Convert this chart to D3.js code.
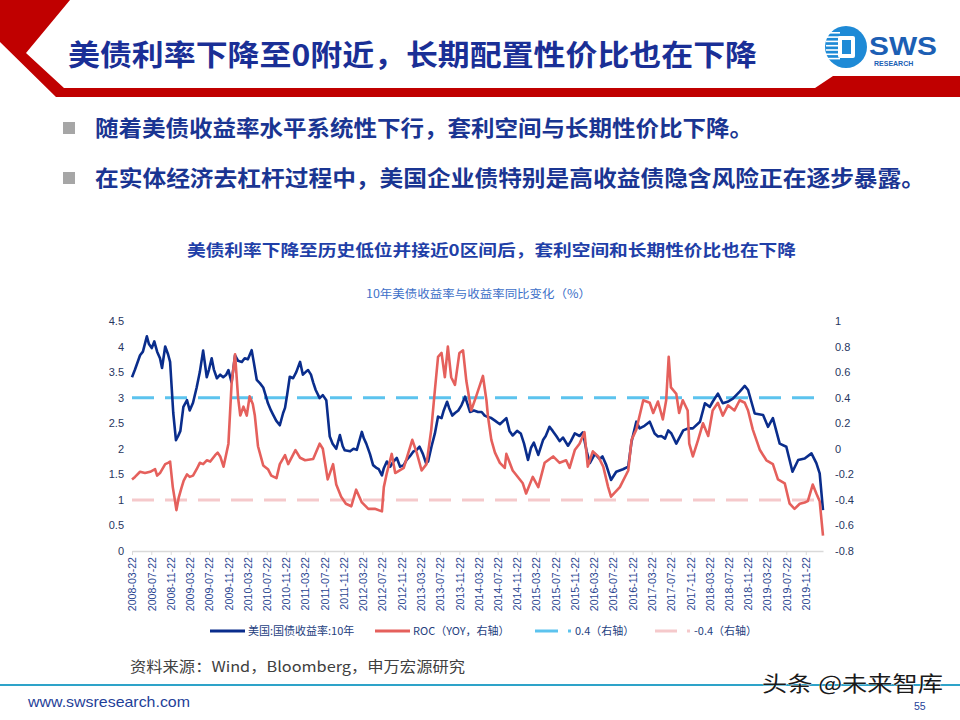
<!DOCTYPE html>
<html><head><meta charset="utf-8">
<script src="https://cdn.jsdelivr.net/npm/d3@7/dist/d3.min.js"></script>
<style>
html,body{margin:0;padding:0;background:#fff;}
svg{display:block;}
</style></head>
<body>
<svg id="c" width="960" height="720"></svg>
<script>
// ---------- DATA ----------
const yieldDates = ["2008-03-22","2008-04-10","2008-05-12","2008-05-30","2008-06-24","2008-07-07","2008-07-25","2008-08-10","2008-08-28","2008-09-15","2008-09-28","2008-10-18","2008-11-05","2008-11-18","2008-12-08","2008-12-25","2009-01-08","2009-01-22","2009-02-10","2009-03-05","2009-03-22","2009-04-12","2009-05-05","2009-05-25","2009-06-15","2009-07-08","2009-07-22","2009-08-08","2009-08-22","2009-09-10","2009-10-01","2009-10-20","2009-11-08","2009-11-22","2009-12-12","2010-01-03","2010-01-22","2010-02-15","2010-03-05","2010-03-25","2010-04-18","2010-05-01","2010-05-20","2010-06-10","2010-06-30","2010-07-15","2010-07-30","2010-08-18","2010-09-02","2010-09-20","2010-10-13","2010-11-03","2010-11-15","2010-11-28","2010-12-15","2011-01-05","2011-01-25","2011-02-18","2011-03-08","2011-03-25","2011-04-10","2011-04-28","2011-05-12","2011-05-28","2011-06-22","2011-07-12","2011-08-03","2011-08-25","2011-09-12","2011-10-05","2011-10-28","2011-11-15","2011-11-28","2012-01-01","2012-01-22","2012-02-12","2012-03-15","2012-03-28","2012-04-12","2012-05-05","2012-05-25","2012-06-18","2012-06-30","2012-07-20","2012-08-01","2012-08-20","2012-09-10","2012-10-01","2012-10-22","2012-11-12","2012-12-05","2012-12-22","2013-01-12","2013-02-05","2013-02-25","2013-03-15","2013-04-05","2013-04-25","2013-05-08","2013-05-30","2013-06-20","2013-07-10","2013-08-01","2013-08-15","2013-09-05","2013-09-18","2013-10-08","2013-10-25","2013-11-15","2013-12-05","2013-12-28","2014-01-15","2014-01-28","2014-02-22","2014-03-20","2014-04-12","2014-05-01","2014-05-22","2014-06-12","2014-07-05","2014-08-05","2014-09-15","2014-10-05","2014-10-25","2014-11-22","2014-12-15","2015-01-05","2015-01-30","2015-02-18","2015-03-08","2015-04-05","2015-05-05","2015-05-22","2015-06-15","2015-07-05","2015-07-28","2015-08-18","2015-09-08","2015-10-10","2015-10-28","2015-11-22","2015-12-22","2016-01-12","2016-02-05","2016-02-25","2016-03-28","2016-04-28","2016-05-15","2016-06-08","2016-07-08","2016-08-10","2016-09-22","2016-10-25","2016-11-15","2016-12-15","2017-01-05","2017-02-05","2017-03-10","2017-04-10","2017-05-01","2017-05-22","2017-06-15","2017-07-05","2017-07-25","2017-08-25","2017-10-08","2017-11-10","2017-12-08","2018-01-22","2018-02-22","2018-03-25","2018-04-12","2018-05-15","2018-06-15","2018-07-15","2018-08-18","2018-09-30","2018-11-01","2018-11-22","2019-01-03","2019-02-25","2019-03-28","2019-04-28","2019-06-10","2019-07-22","2019-08-30","2019-10-05","2019-11-15","2019-12-28","2020-01-28","2020-02-18","2020-03-10"];
const yieldValues = [3.40,3.55,3.83,3.90,4.20,4.05,3.97,4.10,3.90,3.77,3.58,4.00,3.85,3.70,2.70,2.17,2.25,2.35,2.82,2.95,2.75,2.90,3.20,3.50,3.92,3.40,3.55,3.77,3.55,3.38,3.45,3.40,3.45,3.54,3.30,3.83,3.72,3.70,3.77,3.75,3.93,3.70,3.35,3.28,3.20,3.05,2.89,2.75,2.66,2.55,2.46,2.70,2.80,3.05,3.41,3.38,3.50,3.70,3.45,3.50,3.54,3.45,3.30,3.15,2.99,3.05,2.95,2.24,2.10,2.00,2.27,2.05,1.97,1.95,2.00,1.98,2.33,2.20,2.10,1.90,1.68,1.62,1.60,1.48,1.62,1.75,1.65,1.75,1.82,1.65,1.68,1.78,1.85,1.95,1.98,2.04,1.90,1.72,1.75,2.05,2.30,2.63,2.60,2.75,2.92,2.80,2.65,2.70,2.75,2.85,3.02,2.85,2.72,2.75,2.72,2.72,2.65,2.62,2.60,2.55,2.48,2.60,2.35,2.26,2.35,2.30,2.10,1.78,2.02,2.12,1.88,2.17,2.25,2.43,2.35,2.25,2.15,2.22,2.06,2.15,2.30,2.25,2.32,1.95,1.72,1.90,1.80,1.85,1.68,1.39,1.55,1.60,1.65,2.14,2.53,2.40,2.45,2.53,2.30,2.24,2.25,2.20,2.36,2.30,2.10,2.36,2.40,2.40,2.53,2.89,2.82,2.92,3.08,2.89,2.92,2.98,3.12,3.23,3.15,2.69,2.66,2.43,2.60,2.10,2.04,1.55,1.78,1.81,1.91,1.72,1.52,0.80];

const rocDates = ["2008-03-22","2008-04-10","2008-05-12","2008-06-12","2008-07-15","2008-08-15","2008-08-28","2008-09-15","2008-10-18","2008-11-05","2008-11-18","2008-12-05","2008-12-18","2008-12-28","2009-01-12","2009-01-28","2009-02-12","2009-03-05","2009-03-22","2009-04-12","2009-05-05","2009-05-25","2009-06-15","2009-07-08","2009-07-30","2009-08-30","2009-09-15","2009-10-01","2009-10-22","2009-11-22","2009-12-12","2010-01-03","2010-01-22","2010-02-05","2010-02-25","2010-03-18","2010-04-05","2010-04-25","2010-05-08","2010-05-28","2010-06-30","2010-07-30","2010-08-20","2010-09-22","2010-10-13","2010-11-15","2010-12-05","2011-01-20","2011-02-18","2011-03-22","2011-05-12","2011-06-22","2011-07-12","2011-08-12","2011-09-15","2011-10-05","2011-11-05","2011-12-05","2012-01-08","2012-02-08","2012-03-15","2012-04-25","2012-06-05","2012-07-20","2012-08-01","2012-08-20","2012-09-20","2012-10-12","2012-12-05","2013-01-28","2013-02-25","2013-03-28","2013-04-28","2013-05-28","2013-06-20","2013-07-10","2013-08-01","2013-08-22","2013-09-10","2013-10-01","2013-10-25","2013-11-22","2013-12-15","2014-01-05","2014-02-05","2014-03-08","2014-04-20","2014-05-12","2014-05-22","2014-06-12","2014-07-05","2014-08-05","2014-09-05","2014-09-15","2014-10-25","2014-12-28","2015-01-18","2015-03-01","2015-04-05","2015-05-15","2015-07-08","2015-08-18","2015-09-28","2015-10-20","2015-11-22","2015-12-22","2016-01-22","2016-02-12","2016-03-15","2016-04-18","2016-05-20","2016-06-20","2016-07-08","2016-09-02","2016-10-25","2016-11-15","2016-12-15","2017-01-28","2017-03-10","2017-04-01","2017-05-01","2017-06-01","2017-06-22","2017-07-08","2017-07-22","2017-08-25","2017-09-12","2017-10-05","2017-11-05","2017-11-15","2017-12-08","2018-01-10","2018-02-10","2018-03-15","2018-04-12","2018-05-15","2018-06-15","2018-07-18","2018-08-28","2018-09-30","2018-11-01","2018-11-22","2018-12-22","2019-02-05","2019-03-18","2019-04-28","2019-05-30","2019-07-12","2019-08-12","2019-09-12","2019-10-15","2019-11-15","2019-12-05","2020-01-05","2020-01-28","2020-02-18","2020-03-10"];
const rocValues = [-0.24,-0.22,-0.18,-0.19,-0.18,-0.16,-0.21,-0.19,-0.12,-0.11,-0.10,-0.30,-0.40,-0.48,-0.38,-0.31,-0.25,-0.20,-0.22,-0.21,-0.16,-0.11,-0.12,-0.09,-0.10,-0.05,-0.03,-0.06,-0.14,0.04,0.51,0.74,0.40,0.26,0.33,0.26,0.41,0.35,0.26,0.02,-0.13,-0.16,-0.21,-0.23,-0.12,-0.05,-0.12,-0.01,-0.07,-0.09,-0.08,0.04,0.00,-0.24,-0.12,-0.28,-0.375,-0.43,-0.45,-0.32,-0.42,-0.47,-0.47,-0.49,-0.30,-0.19,-0.04,-0.19,-0.15,0.07,-0.03,-0.17,-0.12,0.15,0.46,0.72,0.75,0.56,0.80,0.56,0.50,0.75,0.77,0.53,0.30,0.41,0.57,0.38,0.25,0.07,-0.03,-0.11,-0.15,-0.04,-0.17,-0.27,-0.35,-0.22,-0.30,-0.11,-0.06,-0.11,-0.09,-0.15,-0.01,0.04,0.13,-0.14,-0.02,-0.06,-0.14,-0.30,-0.375,-0.30,-0.17,0.07,0.15,0.38,0.36,0.28,0.37,0.23,0.38,0.72,0.48,0.43,0.28,0.38,0.30,0.04,-0.06,0.07,0.20,0.10,0.30,0.36,0.26,0.34,0.30,0.38,0.36,0.30,0.15,-0.01,-0.09,-0.12,-0.24,-0.27,-0.43,-0.47,-0.43,-0.42,-0.41,-0.28,-0.35,-0.41,-0.68];

const upperRef = 0.4;   // 0.4（右轴）
const lowerRef = -0.4;  // -0.4（右轴）

const xTickLabels = ["2008-03-22","2008-07-22","2008-11-22","2009-03-22","2009-07-22","2009-11-22","2010-03-22","2010-07-22","2010-11-22","2011-03-22","2011-07-22","2011-11-22","2012-03-22","2012-07-22","2012-11-22","2013-03-22","2013-07-22","2013-11-22","2014-03-22","2014-07-22","2014-11-22","2015-03-22","2015-07-22","2015-11-22","2016-03-22","2016-07-22","2016-11-22","2017-03-22","2017-07-22","2017-11-22","2018-03-22","2018-07-22","2018-11-22","2019-03-22","2019-07-22","2019-11-22"];
const leftTicks = [0,0.5,1,1.5,2,2.5,3,3.5,4,4.5];
const rightTicks = [-0.8,-0.6,-0.4,-0.2,0,0.2,0.4,0.6,0.8,1];
const legendLabels = ["美国:国债收益率:10年","ROC（YOY，右轴）","0.4（右轴）","-0.4（右轴）"];

// ---------- DRAW ----------
const svg = d3.select("#c");
const parse = d3.timeParse("%Y-%m-%d");
const CJK = "'Noto Sans CJK SC','Liberation Sans',sans-serif";
const LAT = "'Liberation Sans','Noto Sans CJK SC',sans-serif";
const navy = "#0a2d8c", red = "#e5605c", lblue = "#5cc3ee", pink = "#f5c9cb";

// header band
svg.append("path")
  .attr("d","M0,0 L70,0 L26,53 L64,88 L815,88 L833,76 L960,76 L960,97 L56,97 L0,42 Z")
  .attr("fill","#c00000");
svg.append("text").attr("x",68).attr("y",66)
  .attr("font-family",CJK).attr("font-weight","bold").attr("font-size",29)
  .attr("fill","#1a2f96").attr("textLength",689).attr("lengthAdjust","spacingAndGlyphs")
  .text("美债利率下降至0附近，长期配置性价比也在下降");

// logo
const logo = svg.append("g");
logo.append("circle").attr("cx",846).attr("cy",47).attr("r",21).attr("fill","#1e8ad6");
for (let i=0;i<7;i++){
  logo.append("rect").attr("x",826).attr("y",32+i*4.3).attr("width",14).attr("height",1.6).attr("fill","#fff");
}
logo.append("rect").attr("x",838).attr("y",36).attr("width",17).attr("height",22).attr("rx",2).attr("fill","#fff");
logo.append("rect").attr("x",842).attr("y",40).attr("width",9).attr("height",14).attr("fill","#1e8ad6");
logo.append("text").attr("x",869).attr("y",55).attr("font-family",LAT).attr("font-weight","bold")
  .attr("font-size",26).attr("fill","#1c5fb4").attr("textLength",68).attr("lengthAdjust","spacingAndGlyphs").text("SWS");
logo.append("text").attr("x",874).attr("y",66).attr("font-family",LAT).attr("font-weight","bold")
  .attr("font-size",7).attr("fill","#1c5fb4").text("RESEARCH");

// bullets
const bullets = [
  {y:128, w:658, t:"随着美债收益率水平系统性下行，套利空间与长期性价比下降。"},
  {y:178, w:830, t:"在实体经济去杠杆过程中，美国企业债特别是高收益债隐含风险正在逐步暴露。"}
];
bullets.forEach(b=>{
  svg.append("rect").attr("x",63).attr("y",b.y-6).attr("width",12).attr("height",12).attr("fill","#a6a6a6");
  svg.append("text").attr("x",95).attr("y",b.y+8).attr("font-family",CJK).attr("font-weight","bold")
    .attr("font-size",22).attr("fill","#1a3592").attr("textLength",b.w).attr("lengthAdjust","spacingAndGlyphs").text(b.t);
});

// chart titles
svg.append("text").attr("x",187).attr("y",256).attr("font-family",CJK).attr("font-weight","bold")
  .attr("font-size",16).attr("fill","#1f3fa8").attr("textLength",609).attr("lengthAdjust","spacingAndGlyphs")
  .text("美债利率下降至历史低位并接近0区间后，套利空间和长期性价比也在下降");
svg.append("text").attr("x",366).attr("y",298).attr("font-family",CJK)
  .attr("font-size",11.5).attr("fill","#3d6fc8").attr("textLength",225).attr("lengthAdjust","spacingAndGlyphs")
  .text("10年美债收益率与收益率同比变化（%）");

// scales
const x = d3.scaleTime().domain([parse("2008-03-22"), parse("2020-03-10")]).range([132, 823]);
const yL = d3.scaleLinear().domain([0,4.5]).range([551,321]);
const yR = d3.scaleLinear().domain([-0.8,1]).range([551,321]);

// axes
const fmt = d => String(+d.toFixed(1));
const gL = svg.append("g").attr("transform","translate(126,0)")
  .call(d3.axisLeft(yL).tickValues(leftTicks).tickSize(0).tickPadding(2).tickFormat(fmt));
const gR = svg.append("g").attr("transform","translate(834,0)")
  .call(d3.axisRight(yR).tickValues(rightTicks).tickSize(0).tickPadding(1).tickFormat(fmt));
[gL,gR].forEach(g=>{
  g.select(".domain").remove();
  g.selectAll("text").attr("font-family",LAT).attr("font-size",11).attr("fill","#27365f");
});
const gX = svg.append("g").attr("transform","translate(0,551)")
  .call(d3.axisBottom(x).tickValues(xTickLabels.map(parse)).tickSize(4).tickSizeOuter(0)
  .tickFormat(d3.timeFormat("%Y-%m-%d")));
gX.select(".domain").attr("stroke","#d9d9d9").attr("stroke-width",1.5);
gX.selectAll(".tick line").attr("stroke","#d9d9d9");
gX.selectAll("text").attr("font-family",LAT).attr("font-size",10.6).attr("fill","#2a4591")
  .attr("transform","rotate(-90)").attr("text-anchor","end").attr("x",-6).attr("y",0).attr("dy","0.35em");

// reference dashed lines
const [x0,x1] = x.range();
svg.append("line").attr("x1",x0).attr("x2",x1).attr("y1",yR(upperRef)).attr("y2",yR(upperRef))
  .attr("stroke",lblue).attr("stroke-width",3).attr("stroke-dasharray","22,11");
svg.append("line").attr("x1",x0).attr("x2",x1).attr("y1",yR(lowerRef)).attr("y2",yR(lowerRef))
  .attr("stroke",pink).attr("stroke-width",3).attr("stroke-dasharray","22,11");

// series
const yieldData = yieldDates.map((d,i)=>({d:parse(d), v:yieldValues[i]}));
const rocData = rocDates.map((d,i)=>({d:parse(d), v:rocValues[i]}));
svg.append("path").datum(yieldData)
  .attr("d", d3.line().x(p=>x(p.d)).y(p=>yL(p.v)))
  .attr("fill","none").attr("stroke",navy).attr("stroke-width",2.6).attr("stroke-linejoin","round");
svg.append("path").datum(rocData)
  .attr("d", d3.line().x(p=>x(p.d)).y(p=>yR(p.v)))
  .attr("fill","none").attr("stroke",red).attr("stroke-width",2.6).attr("stroke-linejoin","round");

// legend
const legItems = [
  {x:210, w:35, c:navy, dot:false},
  {x:375, w:35, c:red, dot:false},
  {x:535, w:23, c:lblue, dot:true},
  {x:655, w:22, c:pink, dot:true}
];
legItems.forEach((it,i)=>{
  svg.append("line").attr("x1",it.x).attr("x2",it.x+it.w).attr("y1",631).attr("y2",631)
    .attr("stroke",it.c).attr("stroke-width",3);
  let tx = it.x+it.w+3;
  if (it.dot){
    svg.append("rect").attr("x",it.x+it.w+10).attr("y",629.5).attr("width",3).attr("height",3).attr("fill",it.c);
    tx = it.x+it.w+17;
  }
  svg.append("text").attr("x",tx).attr("y",635).attr("font-family",CJK).attr("font-size",11)
    .attr("fill","#25407e").text(legendLabels[i]);
});

// footer
svg.append("text").attr("x",130).attr("y",672).attr("font-family",CJK).attr("font-size",14.5)
  .attr("fill","#404040").attr("textLength",335).attr("lengthAdjust","spacingAndGlyphs")
  .text("资料来源：Wind，Bloomberg，申万宏源研究");
svg.append("line").attr("x1",0).attr("x2",960).attr("y1",685).attr("y2",685)
  .attr("stroke","#2ea3c9").attr("stroke-width",2);
svg.append("text").attr("x",28).attr("y",707).attr("font-family",LAT).attr("font-size",14.5)
  .attr("fill","#1f3f99").attr("textLength",162).attr("lengthAdjust","spacingAndGlyphs").text("www.swsresearch.com");
svg.append("text").attr("x",914).attr("y",710).attr("font-family",LAT).attr("font-size",10.5)
  .attr("fill","#1f3f99").text("55");
svg.append("text").attr("x",762).attr("y",691).attr("font-family",CJK).attr("font-size",21)
  .attr("fill","#1a1a1a").attr("stroke","#fff").attr("stroke-width",0.6).attr("paint-order","stroke")
  .attr("textLength",181).attr("lengthAdjust","spacingAndGlyphs").text("头条 @未来智库");
</script>
</body></html>
